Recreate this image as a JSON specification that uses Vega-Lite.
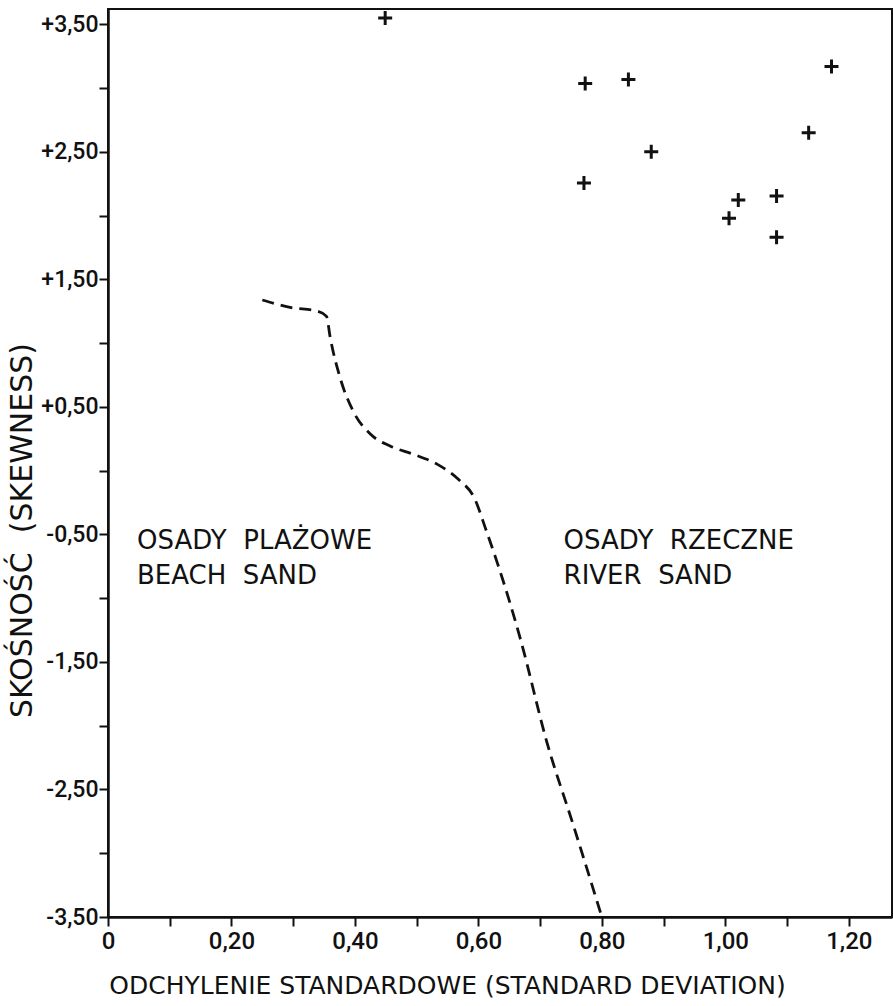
{
  "$schema": "https://vega.github.io/schema/vega-lite/v6.json",
  "width": 784,
  "height": 908,
  "autosize": "none",
  "padding": {"left": 108, "top": 9, "right": 1, "bottom": 89},
  "background": "white",
  "config": {
    "view": {"stroke": "#111", "strokeWidth": 2},
    "font": "DejaVu Sans"
  },
  "datasets": {
    "points": [
      {"sd": 0.449, "sk": 3.55},
      {"sd": 0.773, "sk": 3.035},
      {"sd": 0.843, "sk": 3.067},
      {"sd": 1.172, "sk": 3.169},
      {"sd": 1.135, "sk": 2.65},
      {"sd": 0.880, "sk": 2.50},
      {"sd": 0.771, "sk": 2.256},
      {"sd": 1.021, "sk": 2.122},
      {"sd": 1.083, "sk": 2.153},
      {"sd": 1.006, "sk": 1.98},
      {"sd": 1.083, "sk": 1.83}
    ],
    "boundary": [
      {"i": 1, "sd": 0.250, "sk": 1.338},
      {"i": 2, "sd": 0.295, "sk": 1.28},
      {"i": 3, "sd": 0.340, "sk": 1.250},
      {"i": 4, "sd": 0.354, "sk": 1.21},
      {"i": 5, "sd": 0.360, "sk": 1.043},
      {"i": 6, "sd": 0.376, "sk": 0.728},
      {"i": 7, "sd": 0.397, "sk": 0.468},
      {"i": 8, "sd": 0.425, "sk": 0.287},
      {"i": 9, "sd": 0.457, "sk": 0.193},
      {"i": 10, "sd": 0.494, "sk": 0.130},
      {"i": 11, "sd": 0.533, "sk": 0.051},
      {"i": 12, "sd": 0.568, "sk": -0.070},
      {"i": 13, "sd": 0.594, "sk": -0.220},
      {"i": 14, "sd": 0.612, "sk": -0.460},
      {"i": 15, "sd": 0.630, "sk": -0.713},
      {"i": 16, "sd": 0.668, "sk": -1.319},
      {"i": 17, "sd": 0.711, "sk": -2.130},
      {"i": 18, "sd": 0.754, "sk": -2.783},
      {"i": 19, "sd": 0.800, "sk": -3.50}
    ],
    "labels": [
      {"lx": 0.047, "ly": -0.45, "l1": "OSADY\u00a0 PLAŻOWE", "l2": "BEACH\u00a0 SAND"},
      {"lx": 0.738, "ly": -0.45, "l1": "OSADY\u00a0 RZECZNE", "l2": "RIVER\u00a0 SAND"}
    ]
  },
  "encoding": {
    "x": {
      "field": "sd",
      "type": "quantitative",
      "scale": {"domain": [0, 1.27], "nice": false, "zero": false},
      "axis": {
        "values": [0, 0.1, 0.2, 0.3, 0.4, 0.5, 0.6, 0.7, 0.8, 0.9, 1.0, 1.1, 1.2],
        "labelExpr": "round(datum.value*10) % 2 == 0 ? (datum.value == 0 ? '0' : replace(format(datum.value, '.2f'), '.', ',')) : ''",
        "grid": false,
        "tickSize": 9,
        "tickWidth": 2,
        "tickColor": "#111",
        "domainColor": "#111",
        "domainWidth": 2.5,
        "labelFont": "Roboto",
        "labelFontSize": 24,
        "labelFontWeight": 500,
        "labelColor": "#111",
        "labelPadding": 3,
        "labelOverlap": false,
        "labelFlush": false,
        "labelBound": false,
        "title": "ODCHYLENIE STANDARDOWE (STANDARD DEVIATION)",
        "titleFont": "DejaVu Sans",
        "titleFontSize": 25,
        "titleFontWeight": "normal",
        "titleColor": "#111",
        "titleX": 339,
        "titleY": 68,
        "titleAlign": "center",
        "titleBaseline": "middle"
      }
    },
    "y": {
      "field": "sk",
      "type": "quantitative",
      "scale": {"domain": [-3.5, 3.62], "nice": false, "zero": false},
      "axis": {
        "values": [-3.5, -3, -2.5, -2, -1.5, -1, -0.5, 0, 0.5, 1, 1.5, 2, 2.5, 3, 3.5],
        "labelExpr": "abs(round(datum.value*2)) % 2 == 1 ? ((datum.value > 0 ? '+' : '-') + replace(format(abs(datum.value), '.2f'), '.', ',')) : ''",
        "grid": false,
        "tickSize": 9,
        "tickWidth": 2,
        "tickColor": "#111",
        "domainColor": "#111",
        "domainWidth": 2.5,
        "labelFont": "Roboto",
        "labelFontSize": 23,
        "labelFontWeight": 500,
        "labelColor": "#111",
        "labelPadding": 1,
        "labelOverlap": false,
        "labelFlush": false,
        "labelBound": false,
        "title": "SKOŚNOŚĆ\u00a0 (SKEWNESS)",
        "titleFont": "DejaVu Sans",
        "titleFontSize": 30,
        "titleFontWeight": "normal",
        "titleColor": "#111",
        "titleX": -86,
        "titleY": 521,
        "titleAngle": 270,
        "titleAlign": "center",
        "titleBaseline": "middle"
      }
    }
  },
  "layer": [
    {
      "data": {"name": "boundary"},
      "mark": {"type": "line", "color": "#111", "strokeWidth": 2.8, "strokeDash": [12, 7], "interpolate": "monotone"},
      "encoding": {"order": {"field": "i", "type": "quantitative"}}
    },
    {
      "data": {"name": "points"},
      "mark": {"type": "point", "shape": "M-1,0L1,0M0,-1L0,1", "filled": false, "strokeWidth": 3, "size": 196, "color": "#111", "opacity": 1}
    },
    {
      "data": {"name": "labels"},
      "mark": {"type": "text", "align": "left", "baseline": "top", "fontSize": 26, "font": "DejaVu Sans", "color": "#111"},
      "encoding": {
        "x": {"field": "lx", "type": "quantitative"},
        "y": {"field": "ly", "type": "quantitative"},
        "text": {"field": "l1"}
      }
    },
    {
      "data": {"name": "labels"},
      "mark": {"type": "text", "align": "left", "baseline": "top", "fontSize": 26, "font": "DejaVu Sans", "color": "#111", "dy": 35},
      "encoding": {
        "x": {"field": "lx", "type": "quantitative"},
        "y": {"field": "ly", "type": "quantitative"},
        "text": {"field": "l2"}
      }
    }
  ]
}
